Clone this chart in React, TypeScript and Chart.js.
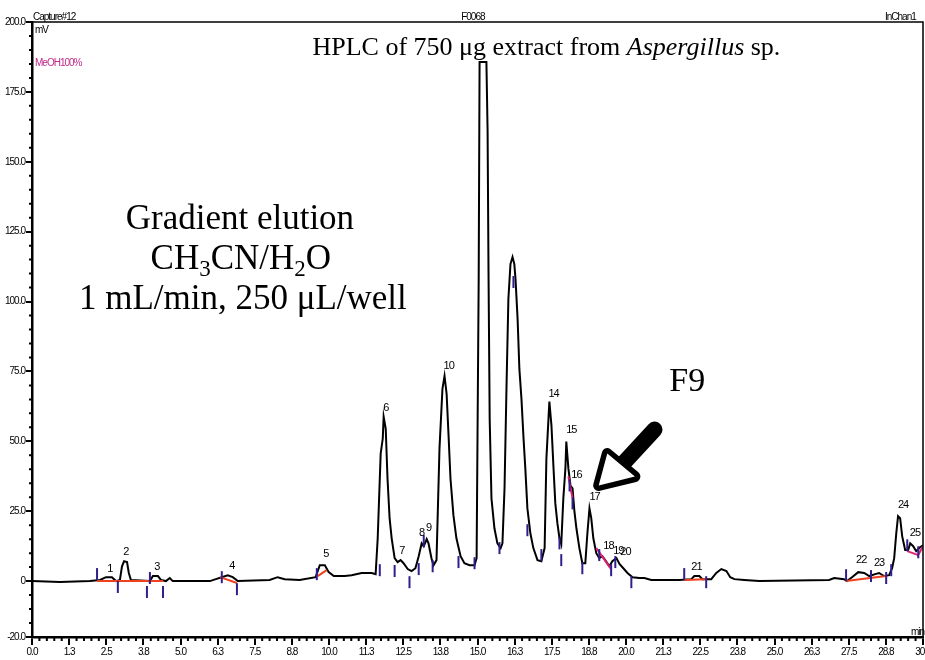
import React, { useEffect, useRef } from "react";
import { Chart, registerables } from "chart.js";
Chart.register(...registerables);

// ---- chromatogram trace (time in min, signal in mV) ----
const traceTimes = [
  0, 0.94, 1.95, 2.29, 2.49, 2.69, 2.83, 2.96, 3.03, 3.1, 3.2, 3.26, 3.33,
  3.97, 4.07, 4.24, 4.34, 4.51, 4.64, 4.74, 5.99, 6.19, 6.39, 6.59, 6.76, 6.93,
  8.0, 8.27, 8.51, 9.01, 9.55, 9.69, 9.86, 9.99, 10.16, 10.53, 10.76, 11.1, 11.44,
  11.57, 11.64, 11.74, 11.81, 11.84, 11.91, 11.97, 12.04, 12.11, 12.21, 12.31, 12.41,
  12.51, 12.65, 12.78, 12.91, 13.02, 13.12, 13.19, 13.29, 13.35, 13.45, 13.52, 13.62,
  13.72, 13.82, 13.89, 13.96, 14.03, 14.09, 14.19, 14.29, 14.43, 14.56, 14.73, 14.9,
  14.97, 15.0, 15.04, 15.07, 15.3, 15.34, 15.37, 15.41, 15.47, 15.57, 15.67, 15.78,
  15.84, 15.91, 15.98, 16.04, 16.11, 16.18, 16.24, 16.28, 16.35, 16.41, 16.48, 16.55,
  16.61, 16.68, 16.78, 16.88, 17.02, 17.15, 17.26, 17.32, 17.39, 17.42, 17.49, 17.56,
  17.62, 17.69, 17.76, 17.82, 17.89, 17.96, 17.99, 18.06, 18.13, 18.2, 18.26, 18.33,
  18.43, 18.53, 18.63, 18.7, 18.77, 18.83, 18.9, 19.0, 19.1, 19.2, 19.3, 19.44,
  19.54, 19.68, 19.78, 19.91, 20.05, 20.22, 20.45, 20.62, 20.85, 21.8, 22.2, 22.3,
  22.47, 22.57, 22.87, 23.04, 23.21, 23.38, 23.51, 23.65, 23.98, 24.49, 26.84, 27.01,
  27.34, 27.44, 27.61, 27.82, 28.02, 28.19, 28.39, 28.52, 28.69, 28.86, 28.96, 29.03,
  29.1, 29.16, 29.23, 29.3, 29.4, 29.5, 29.57, 29.67, 29.77, 29.9, 30.0,
];
const traceSignal = [
  0, -0.3, 0, 0.4, 1.4, 1.4, 0, 0.4, 5.3, 7.1, 6.8, 2.9, 0.4,
  0, 1.8, 1.8, 0.4, 0, 1.1, 0, 0, 0.7, 1.4, 2.1, 1.4, 0,
  0.4, 1.4, 0.7, 0.4, 1.4, 5.7, 5.7, 3.2, 1.8, 1.8, 2.1, 2.9, 2.9,
  2.5, 15.3, 45.6, 51, 58.8, 54.5, 36.7, 22.5, 15.3, 8.2, 6.8, 7.5,
  6.4, 4.3, 3.6, 4.6, 8.9, 13.5, 12.5, 15, 13.5, 8.2, 5.7, 7.5,
  47.4, 68.8, 73.4, 67, 51, 36.7, 23.5, 15.3, 8.9, 6.4, 5.7, 5.7,
  8.2, 51, 108, 185.7, 185.7, 160.8, 111.6, 58.1, 29.6, 18.9, 13.5, 11.8,
  13.5, 33.2, 71.3, 100.9, 113.4, 115.9, 113.4, 108, 93.8, 75.9, 65.2, 51,
  40.3, 26, 17.1, 11.8, 7.5, 7.1, 11.8, 43.9, 58.1, 64.2, 55.6, 40.3,
  27.8, 20.7, 15.3, 13.2, 29.6, 40.3, 49.9, 40.3, 34.2, 33.2, 25.3, 18.9,
  11.8, 6.4, 6.4, 17.1, 26, 22.5, 15.3, 10, 8.2, 8.9, 7.5, 5.3,
  7.1, 8.2, 6.1, 4.6, 2.9, 1.4, 1.1, 1.1, 0.4, 0.4, 0.7, 1.8,
  1.8, 0.7, 0.7, 2.9, 4.3, 3.6, 1.4, 0.7, 0.4, 0, 0.4, 1.1,
  0.7, 0, 1.4, 3.2, 2.9, 1.8, 2.5, 2.9, 1.8, 2.1, 4.6, 8.2,
  17.1, 23.2, 22.5, 16, 11.1, 11.1, 13.5, 12.5, 10.7, 12.1, 12.8,
];

// ---- axis ticks ----
const xMajorTicks = [
  0, 1.25, 2.5, 3.75, 5, 6.25, 7.5, 8.75, 10, 11.25, 12.5, 13.75, 15, 16.25,
  17.5, 18.75, 20, 21.25, 22.5, 23.75, 25, 26.25, 27.5, 28.75, 30,
];
const xTickLabels = [
  "0.0", "1.3", "2.5", "3.8", "5.0", "6.3", "7.5", "8.8", "10.0", "11.3", "12.5",
  "13.8", "15.0", "16.3", "17.5", "18.8", "20.0", "21.3", "22.5", "23.8", "25.0",
  "26.3", "27.5", "28.8", "30.0",
];
const yMajorTicks = [-20, 0, 25, 50, 75, 100, 125, 150, 175, 200];
const yTickLabels = ["-20.0", "0", "25.0", "50.0", "75.0", "100.0", "125.0", "150.0", "175.0", "200.0"];

// ---- peak numbers ----
const peakNames = ["1", "2", "3", "4", "5", "6", "7", "8", "9", "10", "14", "15", "16", "17", "18", "19", "20", "21", "22", "23", "24", "25"];
const peakTimes = [2.62, 3.16, 4.2, 6.73, 9.89, 11.91, 12.45, 13.12, 13.35, 14.03, 17.56, 18.16, 18.33, 18.94, 19.41, 19.74, 19.98, 22.37, 27.92, 28.52, 29.33, 29.73];
const peakHeights = [3.2, 9.3, 3.9, 4.3, 8.6, 61, 9.6, 16, 17.8, 75.9, 66, 52.8, 36.7, 28.9, 11.4, 9.6, 9.3, 3.9, 6.4, 5.3, 26, 16];

// ---- integration marks ----
const markerTimes = [2.19, 2.89, 3.97, 3.87, 4.41, 6.39, 6.9, 9.59, 11.71, 12.21, 12.71, 13.02, 13.19, 13.49, 14.36, 14.9, 15.74, 16.21, 16.68, 17.15, 17.76, 17.82, 18.1, 18.2, 18.53, 19.1, 19.5, 19.64, 20.18, 21.96, 22.7, 27.41, 28.25, 28.76, 28.93, 29.47, 29.84];
const markerLevels = [2.5, -2.1, 1.1, -3.9, -3.9, 1.4, -2.9, 2.5, 3.9, 3.6, -0.4, 4.3, 14.3, 5.3, 6.8, 6.4, 11.8, 107, 18.2, 9.3, 13.5, 7.5, 34.2, 27.8, 4.6, 9.3, 3.9, 6.8, -0.4, 2.5, -0.4, 2.1, 1.8, 1.1, 3.9, 12.8, 10.3];

const baseTimes = [2.19, 4.41, null, 6.33, 6.9, null, 9.62, 9.92, null, 21.96, 22.7, null, 27.41, 28.76];
const baseLevels = [0, 0, null, 1.4, -0.7, null, 1.8, 3.9, null, 0.4, 0.7, null, 0, 1.8];
const pinkTimes = [18.06, 18.2, null, 19.0, 19.5, null, 29.47, 29.84, 30.0];
const pinkLevels = [37.4, 29.6, null, 11.8, 4.3, null, 10.7, 9.3, 12.5];

const SERIF = "'Liberation Serif', 'Times New Roman', serif";
const NARROW = "'Liberation Sans Narrow', 'Liberation Sans', Arial, sans-serif";

const toXY = (ts: (number | null)[], vs: (number | null)[]) =>
  ts.map((t, i) => ({ x: t === null ? NaN : t, y: vs[i] === null ? null : vs[i] }));

function drawParts(ctx: CanvasRenderingContext2D, parts: [string, string, number][], cx: number, y: number) {
  let total = 0;
  for (const [txt, font] of parts) {
    ctx.font = font;
    total += ctx.measureText(txt).width;
  }
  let x = cx - total / 2;
  for (const [txt, font, dy] of parts) {
    ctx.font = font;
    ctx.fillText(txt, x, y + dy);
    x += ctx.measureText(txt).width;
  }
}

const decorPlugin = {
  id: "decor",
  beforeDraw(chart: any) {
    const ctx = chart.ctx;
    ctx.fillStyle = "#fff";
    ctx.fillRect(0, 0, chart.width, chart.height);
    (ctx as any).letterSpacing = "-1px";
  },
  afterDraw(chart: any) {
    const ctx: CanvasRenderingContext2D = chart.ctx;
    const xs = chart.scales.x;
    const ys = chart.scales.y;
    const area = chart.chartArea;
    const px = (t: number) => xs.getPixelForValue(t);
    const py = (v: number) => ys.getPixelForValue(v);
    ctx.save();
    // frame: thin top and right
    ctx.strokeStyle = "#000";
    ctx.lineWidth = 1.5;
    ctx.beginPath();
    ctx.moveTo(area.left, area.top);
    ctx.lineTo(area.right, area.top);
    ctx.lineTo(area.right, area.bottom);
    ctx.stroke();
    // minor ticks
    ctx.lineWidth = 2;
    ctx.beginPath();
    for (let i = 0; i <= 120; i++) {
      if (i % 5 === 0) continue;
      const x = px(i * 0.25);
      ctx.moveTo(x, area.bottom);
      ctx.lineTo(x, area.bottom + 4);
    }
    for (let v = -15; v < 200; v += 5) {
      if (v % 25 === 0) continue;
      const y = py(v);
      ctx.moveTo(area.left, y);
      ctx.lineTo(area.left - 3, y);
    }
    ctx.stroke();

    // small header texts
    ctx.fillStyle = "#000";
    (ctx as any).letterSpacing = "-1px";
    ctx.font = `10px ${NARROW}`;
    ctx.textAlign = "left";
    ctx.textBaseline = "alphabetic";
    ctx.fillText("Capture#12", area.left + 1, area.top - 2);
    ctx.fillText("mV", area.left + 3, area.top + 11);
    ctx.fillText("F0068", px(14.45), area.top - 2);
    ctx.fillText("InChan1", area.right - 38, area.top - 2);
    ctx.fillText("min", area.right - 12, area.bottom - 2);
    ctx.fillStyle = "#c0288a";
    ctx.fillText("MeOH100%", area.left + 3, area.top + 44);

    // peak numbers
    ctx.fillStyle = "#000";
    ctx.font = `11px ${NARROW}`;
    ctx.textAlign = "center";
    peakNames.forEach((n, i) => {
      ctx.fillText(n, px(peakTimes[i]), py(peakHeights[i]));
    });

    // big serif annotations
    (ctx as any).letterSpacing = "0px";
    ctx.textAlign = "left";
    const big = `35px ${SERIF}`;
    const sub = `23px ${SERIF}`;
    drawParts(ctx, [
      ["HPLC of 750 \u03bcg extract from ", `26px ${SERIF}`, 0],
      ["Aspergillus", `italic 26px ${SERIF}`, 0],
      [" sp.", `26px ${SERIF}`, 0],
    ], px(17.32), py(188.2));
    drawParts(ctx, [["Gradient elution", big, 0]], px(7.0), py(125.8));
    drawParts(ctx, [
      ["CH", big, 0], ["3", sub, 7], ["CN/H", big, 0], ["2", sub, 7], ["O", big, 0],
    ], px(7.03), py(111.6));
    drawParts(ctx, [["1 mL/min, 250 \u03bcL/well", big, 0]], px(7.1), py(97.3));
    ctx.font = `34px ${SERIF}`;
    ctx.fillText("F9", px(21.46), py(68.1));

    // arrow pointing to peak 17
    ctx.strokeStyle = "#000";
    ctx.lineCap = "round";
    ctx.lineJoin = "round";
    ctx.lineWidth = 16;
    ctx.beginPath();
    ctx.moveTo(px(20.96), py(54.2));
    ctx.lineTo(px(19.91), py(42.1));
    ctx.stroke();
    ctx.lineWidth = 11;
    ctx.fillStyle = "#fff";
    ctx.beginPath();
    ctx.moveTo(px(19.08), py(34.2));
    ctx.lineTo(px(19.37), py(45.6));
    ctx.lineTo(px(20.3), py(37.4));
    ctx.closePath();
    ctx.stroke();
    ctx.fill();
    ctx.restore();
  },
};

export default function App() {
  const ref = useRef<HTMLCanvasElement | null>(null);
  useEffect(() => {
    if (!ref.current) return;
    const chart = new Chart(ref.current, {
      type: "line",
      data: {
        datasets: [
          {
            label: "marks",
            data: toXY(markerTimes, markerLevels),
            showLine: false,
            pointStyle: "line",
            rotation: 90,
            pointRadius: 6,
            pointBorderWidth: 2,
            borderColor: "#2e1f8c",
            backgroundColor: "#2e1f8c",
          } as any,
          {
            label: "baseline",
            data: toXY(baseTimes, baseLevels),
            borderColor: "#f0401e",
            borderWidth: 2,
            pointRadius: 0,
            spanGaps: false,
          },
          {
            label: "baseline2",
            data: toXY(pinkTimes, pinkLevels),
            borderColor: "#e0206e",
            borderWidth: 2,
            pointRadius: 0,
            spanGaps: false,
          },
          {
            label: "signal",
            data: traceTimes.map((t, i) => ({ x: t, y: traceSignal[i] })),
            borderColor: "#000",
            borderWidth: 2,
            pointRadius: 0,
            tension: 0,
          },
        ],
      },
      options: {
        responsive: false,
        animation: false,
        devicePixelRatio: 1,
        layout: { autoPadding: false, padding: { top: 22, right: 2, left: 0, bottom: 0 } },
        plugins: { legend: { display: false }, tooltip: { enabled: false } },
        scales: {
          x: {
            type: "linear",
            min: 0,
            max: 30,
            afterBuildTicks: (s: any) => {
              s.ticks = xMajorTicks.map((v) => ({ value: v }));
            },
            afterFit: (s: any) => {
              s.height = 23;
              s.paddingLeft = 0;
              s.paddingRight = 0;
            },
            ticks: {
              autoSkip: false,
              maxRotation: 0,
              minRotation: 0,
              padding: 1,
              color: "#000",
              font: { family: NARROW, size: 10 },
              callback: (_v: any, i: number) => xTickLabels[i],
            },
            grid: { drawOnChartArea: false, drawTicks: true, tickLength: 8, color: "#000", lineWidth: 2 },
            border: { display: true, color: "#000", width: 2.5 },
          },
          y: {
            type: "linear",
            min: -20,
            max: 200,
            afterBuildTicks: (s: any) => {
              s.ticks = yMajorTicks.map((v) => ({ value: v }));
            },
            afterFit: (s: any) => {
              s.width = 32;
              s.paddingTop = 0;
              s.paddingBottom = 0;
            },
            ticks: {
              autoSkip: false,
              padding: 1,
              color: "#000",
              font: { family: NARROW, size: 10 },
              callback: (_v: any, i: number) => yTickLabels[i],
            },
            grid: { drawOnChartArea: false, drawTicks: true, tickLength: 6, color: "#000", lineWidth: 2 },
            border: { display: true, color: "#000", width: 2.5 },
          },
        },
      } as any,
      plugins: [decorPlugin],
    });
    return () => chart.destroy();
  }, []);
  return (
    <div style={{ position: "absolute", left: 0, top: 0, width: 925, height: 660, background: "#fff" }}>
      <canvas ref={ref} width={925} height={660} style={{ display: "block" }} />
    </div>
  );
}
